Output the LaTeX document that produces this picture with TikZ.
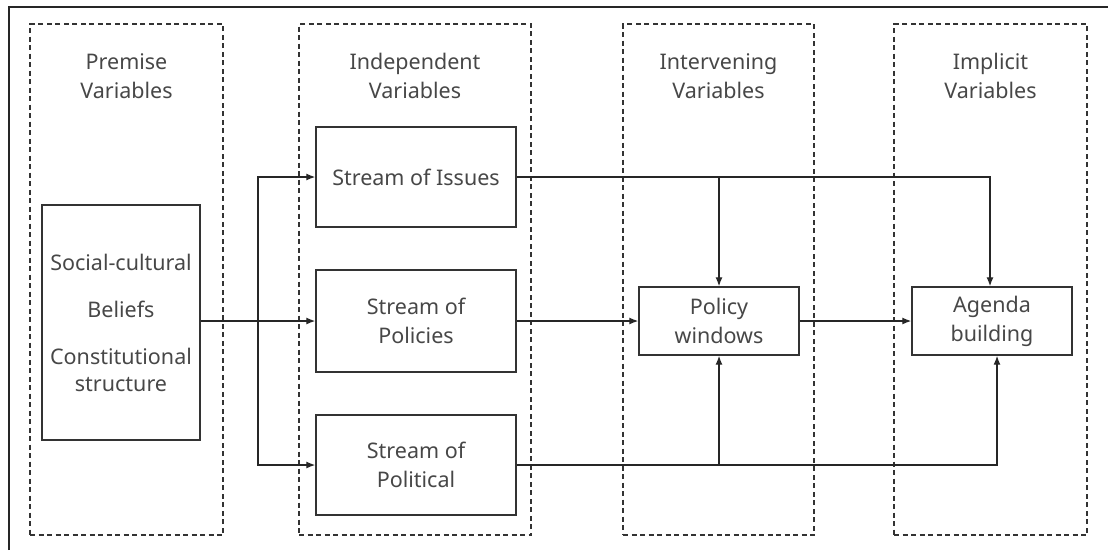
\documentclass[tikz,border=0pt]{standalone}
\usepackage{fontspec}
\setmainfont{Noto Sans}
\usetikzlibrary{calc,arrows.meta}

\begin{document}
\begin{tikzpicture}[x=1pt,y=-1pt,>={Latex[length=9pt,width=7pt]},
    every node/.style={text=black!72, align=center,
        font=\fontsize{21.5}{29}\selectfont},
    column/.style={draw=black!80, line width=1.2pt,
        dash pattern=on 5pt off 3.5pt, minimum width=#1,
        minimum height=511pt, inner sep=0pt},
    factor/.style={draw=black!80, line width=1.4pt,
        minimum width=200pt, minimum height=#1, inner sep=0pt},
    factor/.default=100pt,
    link/.style={draw=black!85, line width=1.3pt}]
  \useasboundingbox (0,0) rectangle (1108,550);
  \draw[black!85, line width=1.2pt] (9,550) |- (1108,7);
  % the four dashed columns with their headings
  \node[column=193pt,name=premise]     at (126.5,279.5) {};
  \node[column=232pt,name=independent] at (415,279.5)   {};
  \node[column=191pt,name=intervening] at (718.5,279.5) {};
  \node[column=193pt,name=implicit]    at (990.5,279.5) {};
  \node[name=h1] at (126.5,76) {Premise\\Variables};
  \node[name=h2] at (415,76)   {Independent\\Variables};
  \node[name=h3] at (718.5,76) {Intervening\\Variables};
  \node[name=h4] at (990.5,76) {Implicit\\Variables};
  % boxes
  \node[factor=235pt,minimum width=158pt,name=social] at (121,322.5)
    {Social-cultural\\[18pt]Beliefs\\[18pt]Constitutional\\[-2pt]structure};
  \node[factor,name=issues]    at (416,177) {Stream of Issues};
  \node[factor=102pt,name=policies] at (416,321) {Stream of\\Policies};
  \node[factor,name=political] at (416,465) {Stream of\\Political};
  \node[factor=68pt,minimum width=160pt,name=windows] at (719,321)
    {Policy\\windows};
  \node[factor=68pt,minimum width=160pt,name=agenda] at (992,321)
    {Agenda\\building};
  % connectors
  \coordinate (fork) at (258,321);
  \draw[link,->] (social.east |- policies.west) -- (policies.west);
  \draw[link,->] (fork) |- (issues.west);
  \draw[link,->] (fork) |- (political.west);
  \draw[link,->] (issues.east) -| ($(agenda.north)+(-2,0)$);
  \draw[link,->] (windows.north |- issues.east) -- (windows.north);
  \draw[link,->] (policies.east) -- (windows.west);
  \draw[link,->] (windows.east) -- (agenda.west);
  \draw[link,->] (political.east) -| ($(agenda.south)+(5,0)$);
  \draw[link,->] (windows.south |- political.east) -- (windows.south);
\end{tikzpicture}
\end{document}
